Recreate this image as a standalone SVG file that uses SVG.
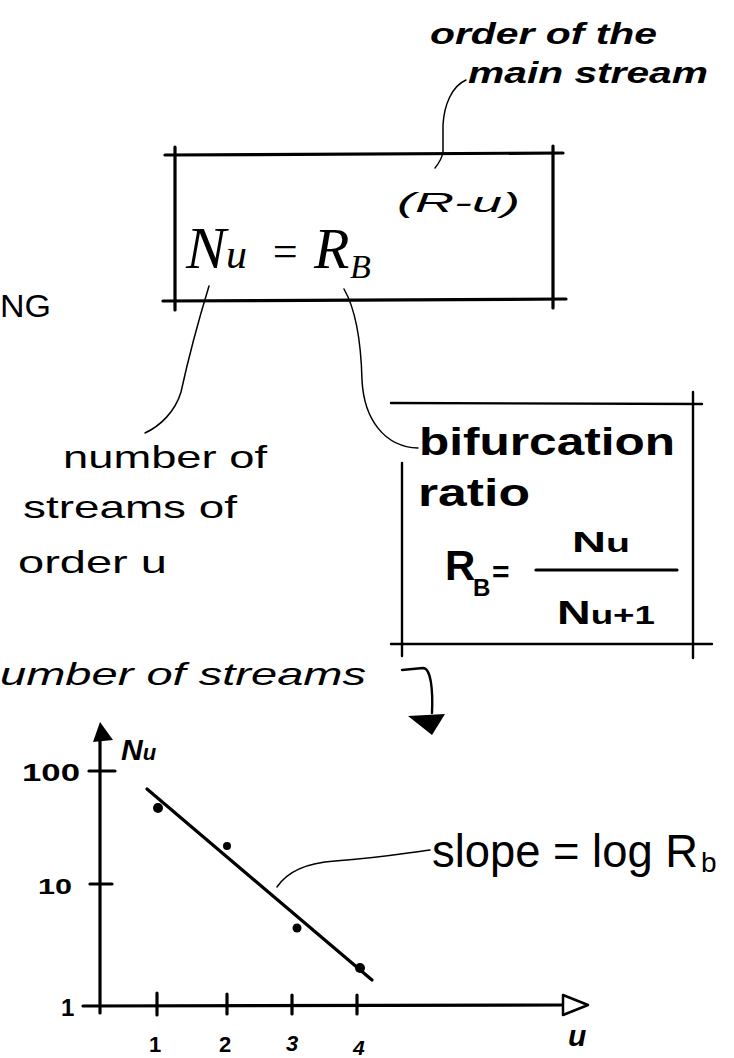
<svg xmlns="http://www.w3.org/2000/svg" width="734" height="1058" viewBox="0 0 734 1058">
<style>
.ln{stroke:#000;fill:none;stroke-linecap:round;stroke-linejoin:round}
.thick{stroke-width:3.2}
.med{stroke-width:2.4}
.thin{stroke-width:1.5}
.hw{font-family:"Liberation Sans",Arial,sans-serif;fill:#000}
.hwi{font-family:"Liberation Sans",Arial,sans-serif;font-style:italic;fill:#000}
.bold{font-weight:bold}
.ser{font-family:"Liberation Serif","Times New Roman",serif;font-style:italic;fill:#000}
</style>
<rect width="734" height="1058" fill="#fff"/>

<g id="label-main-stream">
<text class="hwi bold" x="430" y="44" font-size="29" textLength="227" lengthAdjust="spacingAndGlyphs">order of the</text>
<text class="hwi bold" x="468" y="83" font-size="29" textLength="240" lengthAdjust="spacingAndGlyphs">main stream</text>
</g>

<g id="formula-box">
<line class="ln thick" x1="165" y1="155" x2="563" y2="153"/>
<line class="ln thick" x1="163" y1="301" x2="566" y2="299"/>
<line class="ln thick" x1="175" y1="147" x2="175" y2="310"/>
<line class="ln thick" x1="553" y1="146" x2="553" y2="308"/>
<text class="ser" x="186" y="268" font-size="60">N<tspan font-size="42">u</tspan></text>
<text class="ser" x="270" y="266" font-size="44" font-style="normal">=</text>
<text class="ser" x="314" y="268" font-size="58">R</text>
<text class="ser" x="350" y="278" font-size="34">B</text>
<text class="hwi" x="397" y="212" font-size="27" textLength="123" lengthAdjust="spacingAndGlyphs">(R-u)</text>
</g>

<g id="label-ng">
<text class="hw" x="0" y="317" font-size="32" textLength="51" lengthAdjust="spacingAndGlyphs">NG</text>
</g>

<g id="label-number">
<text class="hw" x="63" y="468" font-size="32" textLength="204" lengthAdjust="spacingAndGlyphs">number of</text>
<text class="hw" x="23" y="518" font-size="32" textLength="214" lengthAdjust="spacingAndGlyphs">streams of</text>
<text class="hw" x="18" y="573" font-size="32" textLength="149" lengthAdjust="spacingAndGlyphs">order u</text>
</g>

<g id="bifurcation-box">
<line class="ln med" x1="391" y1="403" x2="702" y2="404"/>
<line class="ln med" x1="693" y1="392" x2="693" y2="658"/>
<line class="ln med" x1="402" y1="463" x2="402" y2="656"/>
<line class="ln med" x1="391" y1="644" x2="712" y2="644"/>
<text class="hw bold" x="419" y="455" font-size="38" textLength="256" lengthAdjust="spacingAndGlyphs">bifurcation</text>
<text class="hw bold" x="418" y="506" font-size="38" textLength="112" lengthAdjust="spacingAndGlyphs">ratio</text>
<text class="hw bold" x="445" y="580" font-size="42">R</text>
<text class="hw bold" x="473" y="596" font-size="24">B</text>
<text class="hw bold" x="492" y="582" font-size="30">=</text>
<line class="ln thick" x1="536" y1="570" x2="677" y2="570"/>
<text class="hw bold" x="572" y="552" font-size="30" textLength="58" lengthAdjust="spacingAndGlyphs">N<tspan font-size="25">u</tspan></text>
<text class="hw bold" x="557" y="624" font-size="33" textLength="98" lengthAdjust="spacingAndGlyphs">N<tspan font-size="26">u+1</tspan></text>
</g>

<g id="label-streams">
<text class="hwi" x="0" y="685" font-size="32" textLength="366" lengthAdjust="spacingAndGlyphs">umber of streams</text>
</g>

<g id="graph">
<line class="ln thick" x1="100" y1="1013" x2="100" y2="730"/>
<polygon points="93,742 100,722 113,740" fill="#000"/>
<line class="ln thick" x1="83" y1="1006" x2="566" y2="1005"/>
<polygon points="563,995 588,1005 563,1015" fill="#fff" stroke="#000" stroke-width="2.5" stroke-linejoin="round"/>
<line class="ln thick" x1="89" y1="771" x2="115" y2="771"/>
<line class="ln thick" x1="90" y1="884" x2="112" y2="884"/>
<line class="ln thick" x1="157" y1="993" x2="157" y2="1015"/>
<line class="ln thick" x1="227" y1="994" x2="227" y2="1014"/>
<line class="ln thick" x1="292" y1="995" x2="292" y2="1014"/>
<line class="ln thick" x1="357" y1="995" x2="357" y2="1014"/>
<line class="ln thick" x1="147" y1="789" x2="372" y2="980"/>
<circle cx="158" cy="808" r="5"/>
<circle cx="227" cy="846" r="4"/>
<circle cx="297" cy="928" r="4.5"/>
<circle cx="360" cy="968" r="5"/>
<text class="hw bold" x="22" y="781" font-size="24" textLength="58" lengthAdjust="spacingAndGlyphs">100</text>
<text class="hw bold" x="38" y="894" font-size="22" textLength="34" lengthAdjust="spacingAndGlyphs">10</text>
<text class="hw bold" x="61" y="1016" font-size="24">1</text>
<text class="hwi bold" x="121" y="760" font-size="30">N<tspan font-size="22">u</tspan></text>
<text class="hw bold" x="149" y="1052" font-size="22">1</text>
<text class="hw bold" x="219" y="1052" font-size="22">2</text>
<text class="hwi bold" x="286" y="1051" font-size="22">3</text>
<text class="hwi bold" x="353" y="1055" font-size="21">4</text>
<text class="hwi bold" x="568" y="1046" font-size="30">u</text>
<text class="hw" x="432" y="867" font-size="46" textLength="266" lengthAdjust="spacingAndGlyphs">slope = log R</text>
<text class="hw" x="701" y="872" font-size="28">b</text>
</g>

<g id="connectors">
<path class="ln thin" d="M466,80 C452,86 444,105 443,125 L443,152 C442,158 439,163 435,168"/>
<path class="ln thin" d="M209,286 C198,322 188,360 181,392 C175,412 160,426 145,433"/>
<path class="ln thin" d="M344,289 C356,310 361,340 362,380 C364,420 385,447 418,448"/>
<path class="ln med" d="M402,670 L423,668 C431,668 433,690 432,713"/>
<polygon points="408,716 445,714 432,735" fill="#000"/>
<path class="ln thin" d="M430,850 C400,854 380,858 335,861 C305,863 287,872 277,887"/>
</g>
</svg>
